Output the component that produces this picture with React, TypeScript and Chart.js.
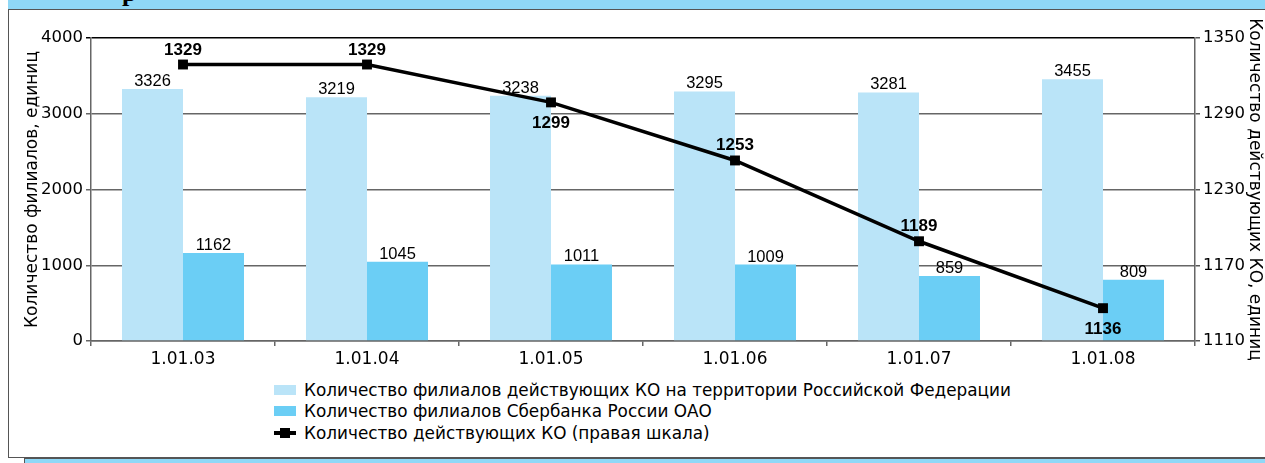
import React, { useEffect, useRef } from "react";
import { Chart, registerables } from "chart.js";

Chart.register(...registerables);

const categories = ["1.01.03", "1.01.04", "1.01.05", "1.01.06", "1.01.07", "1.01.08"];
const totalBranches = [3326, 3219, 3238, 3295, 3281, 3455];
const sberBranches = [1162, 1045, 1011, 1009, 859, 809];
const activeKO = [1329, 1329, 1299, 1253, 1189, 1136];
const leftTicks = [0, 1000, 2000, 3000, 4000];
const rightTicks = [1110, 1170, 1230, 1290, 1350];
const koLabelAbove = [true, true, false, true, true, false];
const seriesNames = [
  "Количество филиалов действующих КО на территории Российской Федерации",
  "Количество филиалов Сбербанка России ОАО",
  "Количество действующих КО (правая шкала)",
];
const leftTitle = "Количество филиалов, единиц";
const rightTitle = "Количество действующих КО, единиц";

const FONT = '"DejaVu Sans", sans-serif';
const LAB_FONT = '"Liberation Sans", Arial, sans-serif';
const LIGHT = "#BAE4F8";
const DARK = "#6BCEF5";
const BAND = "#8FD8F7";

const labelPlugin = {
  id: "valueLabels",
  afterDatasetsDraw(chart: any) {
    const ctx = chart.ctx;
    ctx.save();
    ctx.fillStyle = "#000";
    ctx.textAlign = "center";
    ctx.textBaseline = "alphabetic";
    ctx.font = `16.5px ${LAB_FONT}`;
    [0, 1].forEach((di) => {
      const meta = chart.getDatasetMeta(di);
      meta.data.forEach((el: any, i: number) => {
        ctx.fillText(String(chart.data.datasets[di].data[i]), el.x, el.y - 3);
      });
    });
    ctx.font = `bold 17px ${LAB_FONT}`;
    const lm = chart.getDatasetMeta(2);
    lm.data.forEach((el: any, i: number) => {
      const t = String(chart.data.datasets[2].data[i]);
      if (koLabelAbove[i]) ctx.fillText(t, el.x, el.y - 10);
      else ctx.fillText(t, el.x, el.y + 26);
    });
    ctx.restore();
  },
};

export default function App() {
  const ref = useRef<HTMLCanvasElement | null>(null);

  useEffect(() => {
    document.body.style.margin = "0";
    Chart.defaults.font.family = FONT;
    Chart.defaults.color = "#000";
    const chart = new Chart(ref.current as HTMLCanvasElement, {
      type: "bar",
      data: {
        labels: categories,
        datasets: [
          {
            type: "bar",
            label: seriesNames[0],
            data: totalBranches,
            backgroundColor: LIGHT,
            yAxisID: "y",
            order: 2,
            categoryPercentage: 0.663,
            barPercentage: 1,
          },
          {
            type: "bar",
            label: seriesNames[1],
            data: sberBranches,
            backgroundColor: DARK,
            yAxisID: "y",
            order: 2,
            categoryPercentage: 0.663,
            barPercentage: 1,
          },
          {
            type: "line",
            label: seriesNames[2],
            data: activeKO,
            borderColor: "#000",
            borderWidth: 3.5,
            pointStyle: "rect",
            pointRadius: 7,
            pointBackgroundColor: "#000",
            pointBorderWidth: 0,
            yAxisID: "y1",
            order: 0,
            tension: 0,
          } as any,
        ],
      },
      options: {
        animation: false,
        responsive: false,
        layout: { padding: { left: 10, top: 38, right: 0, bottom: 0 } },
        plugins: { legend: { display: false }, tooltip: { enabled: false } },
        scales: {
          x: {
            offset: true,
            grid: { drawOnChartArea: false, tickLength: 5, color: "#666", lineWidth: 1.5, offset: true },
            border: { color: "#666", width: 1.5 },
            ticks: { font: { size: 17 }, color: "#000", maxRotation: 0, padding: 3 },
            afterFit: (s: any) => { s.height = 39; },
          },
          y: {
            position: "left",
            min: leftTicks[0],
            max: leftTicks[leftTicks.length - 1],
            afterBuildTicks: (s: any) => { s.ticks = leftTicks.map((v) => ({ value: v })); },
            grid: {
              color: (c: any) => (c.tick && c.tick.value === 4000 ? "#000" : "#666"),
              lineWidth: 1.5,
              tickLength: 5,
            },
            border: { color: "#666", width: 1.5 },
            ticks: { font: { size: 16.5 }, color: "#000", padding: 3, callback: (v: any) => String(v) },
            title: { display: true, text: leftTitle, font: { size: 17 }, color: "#000", padding: { top: 12, bottom: 0 } },
            afterFit: (s: any) => { s.width = 81; },
          },
          y1: {
            position: "right",
            min: rightTicks[0],
            max: rightTicks[rightTicks.length - 1],
            afterBuildTicks: (s: any) => { s.ticks = rightTicks.map((v) => ({ value: v })); },
            grid: { drawOnChartArea: false, tickLength: 5, color: "#555", lineWidth: 1.5 },
            border: { color: "#666", width: 1.5 },
            ticks: { font: { size: 16.5 }, color: "#000", padding: 3, callback: (v: any) => String(v) },
            title: { display: true, text: rightTitle, font: { size: 17 }, color: "#000", padding: { top: 0, bottom: 0 } },
            afterFit: (s: any) => { s.width = 70; },
          },
        },
      },
      plugins: [labelPlugin],
    });
    return () => chart.destroy();
  }, []);

  const legendRow = (top: number, swatch: React.ReactNode, text: string) => (
    <div style={{ position: "absolute", left: 274, top, height: 20, display: "flex", alignItems: "center" }}>
      <div style={{ width: 22, height: 20, position: "relative", marginRight: 8 }}>{swatch}</div>
      <span style={{ fontFamily: FONT, fontSize: 16.85, color: "#000", whiteSpace: "nowrap", lineHeight: "20px" }}>{text}</span>
    </div>
  );

  return (
    <div style={{ position: "relative", width: 1265, height: 463, overflow: "hidden", background: "#fff" }}>
      <div style={{ position: "absolute", left: 8, top: 0, right: 0, height: 9, background: BAND, overflow: "hidden" }}>
        <span style={{ position: "absolute", left: 114, top: -22, fontFamily: "serif", fontWeight: "bold", fontSize: 26, color: "#000" }}>р</span>
      </div>
      <div style={{ position: "absolute", left: 24, top: 458, width: 1260, height: 20, background: BAND, borderLeft: "1.5px solid #555", borderTop: "1.5px solid #555" }} />
      <div style={{ position: "absolute", left: 8, top: 9, width: 1280, height: 447, background: "#fff", border: "1.5px solid #555" }} />
      <canvas ref={ref} width={1265} height={380} style={{ position: "absolute", left: 0, top: 0, width: 1265, height: 380 }} />
      {legendRow(380, <div style={{ position: "absolute", left: 0, top: 5, width: 22, height: 10, background: LIGHT }} />, seriesNames[0])}
      {legendRow(401, <div style={{ position: "absolute", left: 0, top: 5, width: 22, height: 10, background: DARK }} />, seriesNames[1])}
      {legendRow(423,
        <>
          <div style={{ position: "absolute", left: 0, top: 8, width: 22, height: 4, background: "#000" }} />
          <div style={{ position: "absolute", left: 6, top: 5, width: 10, height: 10, background: "#000" }} />
        </>,
        seriesNames[2])}
    </div>
  );
}
